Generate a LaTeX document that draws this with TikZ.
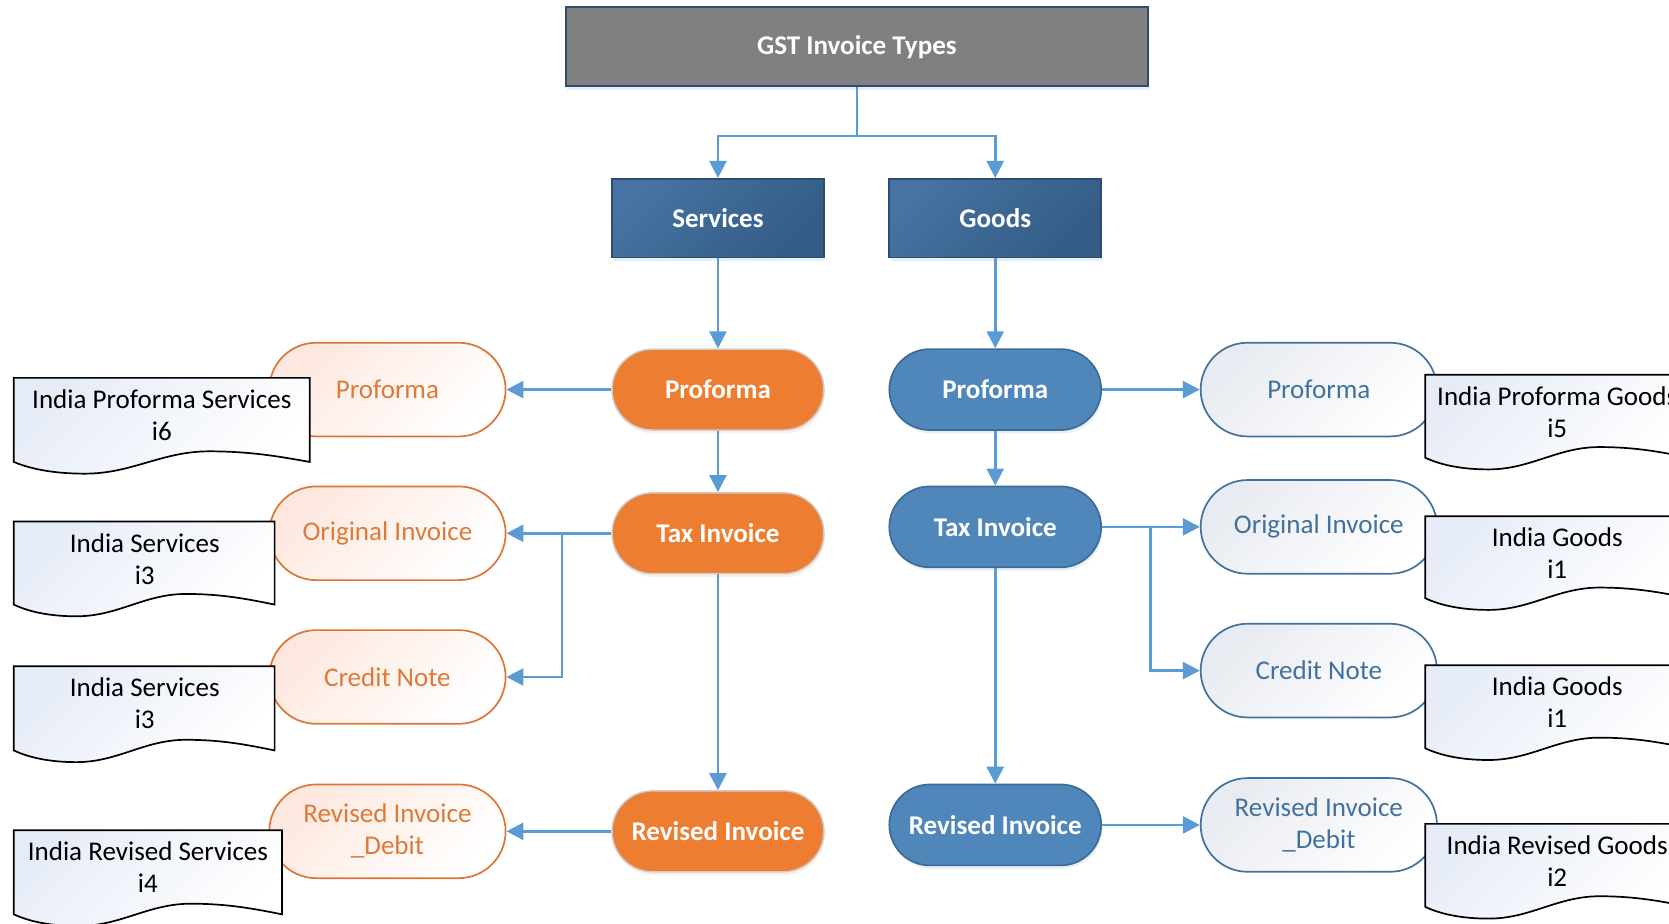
\documentclass[tikz,border=0pt]{standalone}
\usepackage{fontspec}
\setmainfont{Carlito}
\usetikzlibrary{arrows.meta,calc,shadows}

\definecolor{arrowblue}{HTML}{5B9BD5}
\definecolor{gstgray}{HTML}{808080}
\definecolor{navyedge}{HTML}{2E4D6E}
\definecolor{navytop}{HTML}{4673A1}
\definecolor{navybot}{HTML}{345C86}
\definecolor{orangefill}{HTML}{ED7D31}
\definecolor{bluefill}{HTML}{4F87BB}
\definecolor{blueedge}{HTML}{3D6B97}
\definecolor{orangeline}{HTML}{DC7535}
\definecolor{orangetext}{HTML}{DE7A38}
\definecolor{blueline}{HTML}{41719C}
\definecolor{peach}{HTML}{FDE8DF}
\definecolor{mist}{HTML}{E8EBF1}
\definecolor{docblue}{HTML}{E6ECF7}

\tikzset{
  lbl/.style={font=\fontsize{12.7}{15}\selectfont, align=center, inner sep=0pt},
  whitelbl/.style={lbl, font=\fontsize{12.7}{15}\selectfont\bfseries, text=white},
  softshadow/.style={drop shadow={shadow xshift=0.6pt, shadow yshift=-1.6pt, opacity=0.35, fill=#1}},
  headbox/.style={whitelbl, draw=navyedge, line width=0.9pt, fill=gstgray,
    minimum width=273.5pt, minimum height=37pt, softshadow=arrowblue!45},
  catbox/.style={whitelbl, draw=navyedge, line width=0.8pt,
    top color=navytop, bottom color=navybot, shading angle=45,
    minimum width=99.5pt, minimum height=37pt, softshadow=arrowblue!45},
  stage/.style={whitelbl, rounded corners=19pt, minimum width=99.5pt, minimum height=38pt},
  orangestage/.style={stage, fill=orangefill, draw=gray!40, line width=0.7pt, softshadow=orangefill!35},
  bluestage/.style={stage, fill=bluefill, draw=blueedge, line width=0.8pt, softshadow=arrowblue!40},
  outstage/.style={lbl, rounded corners=22pt, minimum width=111pt, minimum height=44pt, line width=0.8pt},
  orangeout/.style={outstage, draw=orangeline, text=orangetext,
    top color=peach, bottom color=white, shading angle=45},
  blueout/.style={outstage, draw=blueline, text=blueline,
    top color=mist, bottom color=white, shading angle=45},
  docstyle/.style={draw=black, line width=0.8pt, top color=docblue, bottom color=white, shading angle=45},
  doctext/.style={lbl, text=black},
  arr/.style={draw=arrowblue, line width=1.2pt, -{Triangle[length=8pt,width=8pt]}}
}

% Document symbol with a wavy lower edge: x0, top, width, lower edge at the left side
\newcommand\invdoc[4]{%
  \path[docstyle] (#1,#2) -- ({#1+#3},#2) -- ({#1+#3},#4)
    .. controls ({#1+0.9*#3},{#4-5}) and ({#1+0.8*#3},{#4-10}) .. ({#1+0.66*#3},{#4-10})
    .. controls ({#1+0.5*#3},{#4-10}) and ({#1+0.4*#3},{#4+11}) .. ({#1+0.24*#3},{#4+11})
    .. controls ({#1+0.14*#3},{#4+11}) and ({#1+0.06*#3},{#4+7}) .. (#1,#4) -- cycle;}

\begin{document}
\begin{tikzpicture}[x=0.5pt, y=-0.5pt]
\useasboundingbox (0,0) rectangle (1568,868);
\clip (0,0) rectangle (1568,868);

% top level
\node[headbox] (gst) at (805,44) {GST Invoice Types};
\node[catbox] (svc) at (674.5,205) {Services};
\node[catbox] (gds) at (935,205) {Goods};

% services chain
\node[orangestage] (sPro) at (674.5,366) {Proforma};
\node[orangestage] (sTax) at (674.5,501) {Tax Invoice};
\node[orangestage] (sRev) at (674.5,781) {Revised Invoice};

% goods chain
\node[bluestage] (gPro) at (935,366) {Proforma};
\node[bluestage] (gTax) at (935,495) {Tax Invoice};
\node[bluestage] (gRev) at (935,775) {Revised Invoice};

% services documents
\node[orangeout] (oPro) at (364,366) {Proforma};
\node[orangeout] (oOrig) at (364,501) {Original Invoice};
\node[orangeout] (oCred) at (364,636) {Credit Note};
\node[orangeout] (oRev) at (364,781) {Revised Invoice\\\_Debit};

% goods documents
\node[blueout] (bPro) at (1239,366) {Proforma};
\node[blueout] (bOrig) at (1239,495) {Original Invoice};
\node[blueout] (bCred) at (1239,630) {Credit Note};
\node[blueout] (bRev) at (1239,775) {Revised Invoice\\\_Debit};

% report templates
\invdoc{13}{355}{278}{434}
\node[doctext] (dS6) at (152,390) {India Proforma Services\\i6};
\invdoc{13}{490}{245}{568}
\node[doctext] (dS3a) at (136,525) {India Services\\i3};
\invdoc{13}{626}{245}{705}
\node[doctext] (dS3b) at (136,661) {India Services\\i3};
\invdoc{13}{780}{252}{859}
\node[doctext] (dS4) at (139,815) {India Revised Services\\i4};

\invdoc{1339}{352}{248}{430}
\node[doctext] (dG5) at (1463,387) {India Proforma Goods\\i5};
\invdoc{1339}{485}{248}{562}
\node[doctext] (dG1a) at (1463,520) {India Goods\\i1};
\invdoc{1339}{625}{248}{703}
\node[doctext] (dG1b) at (1463,660) {India Goods\\i1};
\invdoc{1339}{774}{248}{852}
\node[doctext] (dG2) at (1463,809) {India Revised Goods\\i2};

% connectors
\coordinate (split) at ($(gst.south)+(0,46)$);
\draw[arr] (gst.south) -- (split) -| (svc.north);
\draw[arr] (split) -| (gds.north);

\draw[arr] (svc.south) -- (sPro.north);
\draw[arr] (sPro.south) -- (sTax.north);
\draw[arr] (sTax.south) -- (sRev.north);
\draw[arr] (gds.south) -- (gPro.north);
\draw[arr] (gPro.south) -- (gTax.north);
\draw[arr] (gTax.south) -- (gRev.north);

\draw[arr] (sPro.west) -- (oPro.east);
\draw[arr] (sTax.west) -- (oOrig.east);
\draw[arr] ($(sTax.west)!0.47!(oOrig.east)$) |- (oCred.east);
\draw[arr] (sRev.west) -- (oRev.east);

\draw[arr] (gPro.east) -- (bPro.west);
\draw[arr] (gTax.east) -- (bOrig.west);
\draw[arr] ($(gTax.east)!0.495!(bOrig.west)$) |- (bCred.west);
\draw[arr] (gRev.east) -- (bRev.west);
\end{tikzpicture}
\end{document}
